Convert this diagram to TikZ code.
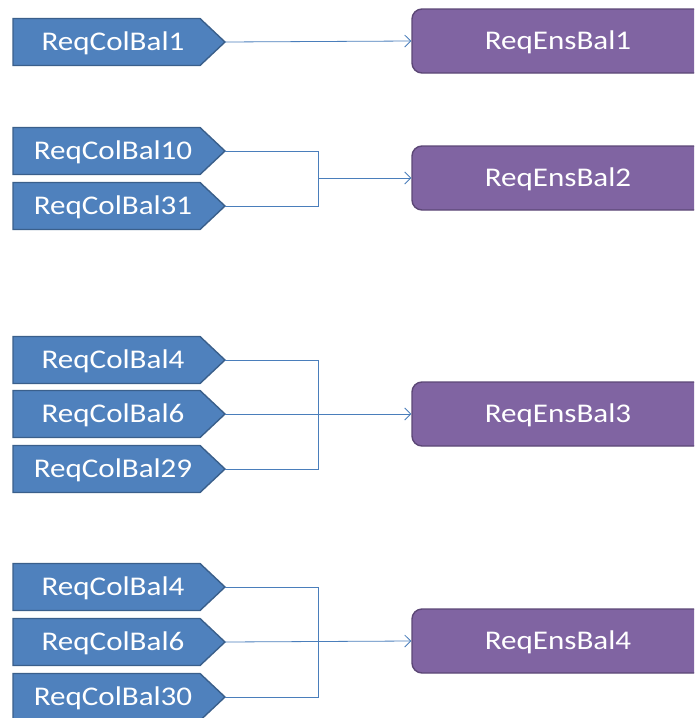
\documentclass[tikz,border=0pt]{standalone}
\usepackage{fontspec}
\setmainfont[FakeStretch=1.15]{Carlito}
\usetikzlibrary{arrows.meta}
\definecolor{colfill}{HTML}{4F81BD}
\definecolor{colline}{HTML}{3A5F8B}
\definecolor{ensfill}{HTML}{8064A2}
\definecolor{ensline}{HTML}{5C4776}
\definecolor{wire}{HTML}{4A7EBB}
\tikzset{
  labelfont/.style={font=\fontsize{27}{31}\selectfont, text height=17.4pt, text depth=0pt},
  coltext/.style={labelfont, text=white, inner sep=0pt},
  pentagon/.style={fill=colfill, draw=colline, line width=1.4pt, line join=miter},
  ensbox/.style={labelfont, fill=ensfill, draw=ensline, line width=1.4pt, rounded corners=10pt,
    minimum width=292pt, minimum height=64pt, text=white},
  wireline/.style={draw=wire, line width=0.8pt},
  arrowline/.style={wireline, -{Straight Barb[length=6pt,width=12pt,line width=0.8pt]}},
}
% source box: pentagon body with its label and a named tip coordinate
\newcommand\colbox[3]{%
  \path[pentagon] (13,#2-23.5) -- (200,#2-23.5) -- (225,#2) -- (200,#2+23.5) -- (13,#2+23.5) -- cycle;
  \node[coltext] (#1) at (113,#2) {#3};
  \coordinate (#1-tip) at (225,#2);
}
\begin{document}
\begin{tikzpicture}[x=1pt,y=-1pt]
\useasboundingbox (0,0) rectangle (694,718);
\clip (0,0) rectangle (694,718);

% targets
\node[ensbox] (e1) at (558,41)  {ReqEnsBal1};
\node[ensbox] (e2) at (558,178) {ReqEnsBal2};
\node[ensbox] (e3) at (558,414) {ReqEnsBal3};
\node[ensbox] (e4) at (558,641) {ReqEnsBal4};

% group 1
\colbox{a1}{42}{ReqColBal1}
\draw[arrowline] (a1-tip) -- (e1.west);

% group 2
\colbox{b1}{151}{ReqColBal10}
\colbox{b2}{206}{ReqColBal31}
\coordinate (j2) at (318,178);
\draw[wireline] (b1-tip) -| (j2);
\draw[wireline] (b2-tip) -| (j2);
\draw[arrowline] (j2) -- (e2.west);

% group 3
\colbox{c1}{360}{ReqColBal4}
\colbox{c2}{414}{ReqColBal6}
\colbox{c3}{469}{ReqColBal29}
\coordinate (j3) at (318,414);
\draw[wireline] (c1-tip) -| (j3);
\draw[wireline] (c3-tip) -| (j3);
\draw[arrowline] (c2-tip) -- (e3.west);

% group 4
\colbox{d1}{587}{ReqColBal4}
\colbox{d2}{642}{ReqColBal6}
\colbox{d3}{697}{ReqColBal30}
\coordinate (j4) at (318,642);
\draw[wireline] (d1-tip) -| (j4);
\draw[wireline] (d3-tip) -| (j4);
\draw[arrowline] (d2-tip) -- (e4.west);
\end{tikzpicture}
\end{document}
